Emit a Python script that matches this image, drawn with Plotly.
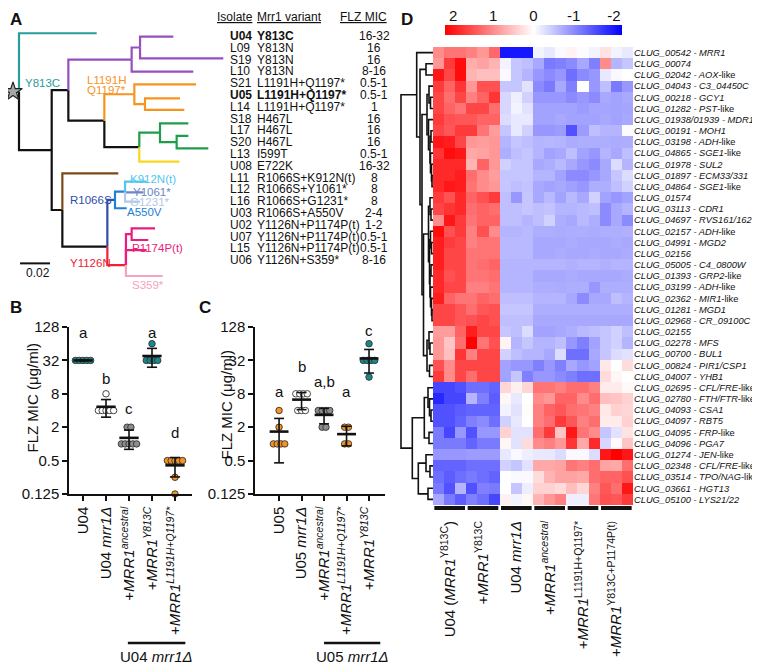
import numpy as np
import plotly.graph_objects as go

# The page body adds an 8px margin, so the figure is laid out 8px smaller and
# every reference pixel position is shifted by that offset.
PAGE_OFF = 8
W, H = 760 - PAGE_OFF, 664 - PAGE_OFF
FONT = "Arial, 'Liberation Sans', Helvetica, sans-serif"


def fx(px):
    return (px - PAGE_OFF) / W


def fy(py):
    return 1 - (py - PAGE_OFF) / H


# ---------------- colours ----------------
BLACK = "#111111"
TEAL = "#2A9C9C"
PURPLE = "#9650BE"
ORANGE = "#F7941D"
GREEN = "#1E9E4A"
YELLOW = "#F9D71C"
BROWN = "#7A4A1A"
DKBLUE = "#2E4FA8"
BLUE = "#1E7FD8"
CYAN = "#4EC6F0"
SLATE = "#6E86C4"
PALEBLUE = "#B3C9E6"
RED = "#EE2233"
MAGENTA = "#EC1C7C"
PINK = "#F5A3BE"

# ---------------- Panel A: tree (name, parent, branch length, colour) ----------------
tree_nodes = [
    ("root", None, 0.0, BLACK),
    ("U04", "root", 0.0518, TEAL),
    ("N1", "root", 0.0218, BLACK),
    ("N2", "N1", 0.0111, BLACK),
    ("P0", "N2", 0.0422, PURPLE),
    ("P1", "P0", 0.0056, PURPLE),
    ("L09", "P1", 0.0222, PURPLE),
    ("S19", "P1", 0.0555, PURPLE),
    ("L10", "P0", 0.0411, PURPLE),
    ("N3", "N2", 0.0240, BLACK),
    ("O1", "N3", 0.0200, ORANGE),
    ("S21", "O1", 0.0411, ORANGE),
    ("O2", "O1", 0.0071, ORANGE),
    ("U05", "O2", 0.0233, ORANGE),
    ("L14", "O2", 0.0262, ORANGE),
    ("N4", "N3", 0.0233, BLACK),
    ("G1", "N4", 0.0138, GREEN),
    ("S18", "G1", 0.0189, GREEN),
    ("G2", "G1", 0.0111, GREEN),
    ("L17", "G2", 0.0078, GREEN),
    ("S20", "G2", 0.0211, GREEN),
    ("L13", "N4", 0.0267, YELLOW),
    ("N5", "N1", 0.0071, BLACK),
    ("U08", "N5", 0.0373, BROWN),
    ("N6", "N5", 0.0300, BLACK),
    ("B1", "N6", 0.0051, DKBLUE),
    ("B2", "B1", 0.0067, BLUE),
    ("L11", "B2", 0.0144, CYAN),
    ("L12", "B2", 0.0122, SLATE),
    ("L16", "B2", 0.0100, PALEBLUE),
    ("U03", "B1", 0.0078, BLUE),
    ("R1", "N6", 0.0124, RED),
    ("M1", "R1", 0.0038, MAGENTA),
    ("U02", "M1", 0.0156, MAGENTA),
    ("U07", "M1", 0.0111, MAGENTA),
    ("L15", "R1", 0.0138, MAGENTA),
    ("U06", "R1", 0.0245, PINK),
]
leaf_rows = {"U04": -0.23, "L09": 0.06, "S19": 1.89, "L10": 3.02, "S21": 4.10,
             "U05": 5.28, "L14": 6.27, "S18": 7.40, "L17": 8.47, "S20": 9.52,
             "L13": 10.65, "U08": 11.64, "L11": 12.34, "L12": 13.25, "L16": 14.04,
             "U03": 14.60, "U02": 16.30, "U07": 17.29, "L15": 18.14, "U06": 20.34}
node_row_override = {"R1": 19.41, "N6": 17.85}
root_stem = 0.004
scale_bar_len = 0.02
scale_bar_start = 0.0007
scale_bar_row = 19.27

tree_labels = [
    ("Y813C", 0.0024, 4.01, TEAL),
    ("L1191H", 0.044, 3.75, ORANGE),
    ("Q1197*", 0.044, 4.62, ORANGE),
    ("R1066S", 0.0329, 13.9, DKBLUE),
    ("K912N(t)", 0.0729, 12.15, CYAN),
    ("Y1061*", 0.0747, 13.2, SLATE),
    ("G1231*", 0.0729, 14.05, PALEBLUE),
    ("A550V", 0.0707, 14.95, BLUE),
    ("Y1126N", 0.0329, 19.27, RED),
    ("P1174P(t)", 0.074, 18.0, MAGENTA),
    ("S359*", 0.074, 21.1, PINK),
]

table_isolates = ["U04", "L09", "S19", "L10", "S21", "U05", "L14", "S18", "L17", "S20",
                  "L13", "U08", "L11", "L12", "L16", "U03", "U02", "U07", "L15", "U06"]
table_variants = ["Y813C", "Y813N", "Y813N", "Y813N", "L1191H+Q1197*", "L1191H+Q1197*",
                  "L1191H+Q1197*", "H467L", "H467L", "H467L", "I599T", "E722K",
                  "R1066S+K912N(t)", "R1066S+Y1061*", "R1066S+G1231*", "R1066S+A550V",
                  "Y1126N+P1174P(t)", "Y1126N+P1174P(t)", "Y1126N+P1174P(t)", "Y1126N+S359*"]
table_mics = ["16-32", "16", "16", "8-16", "0.5-1", "0.5-1", "1", "16", "16", "16",
              "0.5-1", "16-32", "8", "8", "8", "2-4", "1-2", "0.5-1", "0.5-1", "8-16"]
table_bold = ["U04", "U05"]
table_headers = ["Isolate", "Mrr1 variant", "FLZ MIC"]

# ---------------- Panels B and C ----------------
b_labels = ["U04", "U04 <i>mrr1Δ</i>", "+<i>MRR1</i><sup><i>ancestral</i></sup>",
            "+<i>MRR1</i><sup><i>Y813C</i></sup>", "+<i>MRR1</i><sup><i>L1191H+Q1197*</i></sup>"]
b_values = [[32, 32, 32, 32, 32], [8, 4, 4, 4, 4, 4], [2, 2, 1, 1, 1, 1, 1],
            [64, 32, 32, 32, 32], [0.5, 0.5, 0.5, 0.5, 0.5, 0.25, 0.125]]
b_letters = ["a", "b", "c", "a", "d"]
b_letter_y = [100, 15, 4.4, 100, 1.6]

c_labels = ["U05", "U05 <i>mrr1Δ</i>", "+<i>MRR1</i><sup><i>ancestral</i></sup>",
            "+<i>MRR1</i><sup><i>L1191H+Q1197*</i></sup>", "+<i>MRR1</i><sup><i>Y813C</i></sup>"]
c_values = [[4, 2, 1, 1, 1, 1], [8, 8, 8, 8, 4, 4, 4], [4, 4, 4, 4, 2, 2],
            [2, 2, 1, 1], [64, 32, 32, 32, 32, 16]]
c_letters = ["a", "b", "a,b", "a", "c"]
c_letter_y = [8.8, 25, 13.6, 8.8, 111]

mic_ticks = [0.125, 0.5, 2, 8, 32, 128]

DOT_TEAL = "#17898A"
DOT_OPEN = "#FFFFFF"
DOT_GRAY = "#8C8C8C"
DOT_ORANGE = "#F7931E"
b_colors = [DOT_TEAL, DOT_OPEN, DOT_GRAY, DOT_TEAL, DOT_ORANGE]
c_colors = [DOT_ORANGE, DOT_OPEN, DOT_GRAY, DOT_ORANGE, DOT_TEAL]

# ---------------- Panel D: heatmap ----------------
gene_ids = ["CLUG_00542", "CLUG_00074", "CLUG_02042", "CLUG_04043", "CLUG_00218",
            "CLUG_01282", "CLUG_01938/01939", "CLUG_00191", "CLUG_03198", "CLUG_04865",
            "CLUG_01978", "CLUG_01897", "CLUG_04864", "CLUG_01574", "CLUG_03113",
            "CLUG_04697", "CLUG_02157", "CLUG_04991", "CLUG_02156", "CLUG_05005",
            "CLUG_01393", "CLUG_03199", "CLUG_02362", "CLUG_01281", "CLUG_02968",
            "CLUG_02155", "CLUG_02278", "CLUG_00700", "CLUG_00824", "CLUG_04007",
            "CLUG_02695", "CLUG_02780", "CLUG_04093", "CLUG_04097", "CLUG_04095",
            "CLUG_04096", "CLUG_01274", "CLUG_02348", "CLUG_03514", "CLUG_03661",
            "CLUG_05100"]
gene_names = ["MRR1", "", "AOX-like", "C3_04450C", "GCY1", "PST-like", "MDR1", "MOH1",
              "ADH-like", "SGE1-like", "SUL2", "ECM33/331", "SGE1-like", "", "CDR1",
              "RVS161/162", "ADH-like", "MGD2", "", "C4_0800W", "GRP2-like", "ADH-like",
              "MIR1-like", "MGD1", "CR_09100C", "", "MFS", "BUL1", "PIR1/CSP1", "YHB1",
              "CFL/FRE-like", "FTH/FTR-like", "CSA1", "RBT5", "FRP-like", "PGA7", "JEN-like",
              "CFL/FRE-like", "TPO/NAG-like", "HGT13", "LYS21/22"]
sample_groups = ["U04 (<i>MRR1</i><sup>Y813C</sup>)", "+<i>MRR1</i><sup>Y813C</sup>",
                 "U04 <i>mrr1Δ</i>", "+<i>MRR1</i><sup><i>ancestral</i></sup>",
                 "+<i>MRR1</i><sup>L1191H+Q1197*</sup>", "+<i>MRR1</i><sup>Y813C+P1174P(t)</sup>"]
reps_per_group = 3

expr = [
    [1.0, 1.2, 1.2, 1.1, 0.9, 1.3, -2.0, -2.0, -2.0, -0.1, -0.2, -0.05, 0.1, -0.03, -0.1, 0.25, -0.1, -0.2],
    [0.9, 1.7, 2.1, 0.7, 0.8, 0.65, -0.1, -0.5, -0.55, -0.75, -1.15, -1.1, -1.0, -0.75, -1.1, 1.0, -0.65, -0.5],
    [2.0, 1.6, 2.1, 0.65, 0.55, 0.55, -0.05, -0.5, -0.65, -0.9, -1.0, -0.9, -1.25, -1.0, -0.9, -0.2, -0.05, 0.0],
    [1.7, 1.35, 1.75, 0.9, 1.5, 1.5, -0.5, -0.5, -0.25, -1.0, -1.15, -0.75, -1.1, 0.0, -0.9, -0.55, -1.15, -0.9],
    [1.6, 1.25, 1.6, 1.1, 1.35, 1.75, -0.35, -0.15, -0.4, -0.9, -0.9, -0.9, -1.0, -0.9, -1.0, -0.75, -0.8, -0.75],
    [1.6, 1.35, 1.2, 1.6, 1.6, 1.25, -0.35, -0.1, -0.25, -0.8, -0.8, -0.8, -0.8, -0.85, -0.78, -0.78, -0.8, -0.78],
    [1.7, 1.5, 1.45, 1.45, 1.35, 1.35, -0.3, -0.2, -0.2, -0.8, -0.8, -0.75, -0.8, -0.8, -0.8, -0.75, -0.8, -0.75],
    [1.6, 1.45, 1.7, 1.7, 1.2, 0.85, -0.5, -0.2, -0.4, -0.9, -0.9, -0.85, -1.5, -0.85, -0.55, -0.65, -0.65, -0.03],
    [2.0, 1.95, 1.6, 0.9, 0.85, 0.9, -0.65, -0.5, -0.55, -0.65, -0.62, -0.65, -0.72, -0.7, -0.7, -0.7, -0.72, -0.7],
    [1.75, 2.1, 2.0, 0.75, 0.8, 0.9, -0.7, -0.55, -0.5, -0.65, -0.8, -0.75, -0.55, -0.8, -0.9, -0.65, -0.75, -0.55],
    [1.85, 1.85, 1.85, 0.65, 1.35, 0.9, -0.4, -0.5, -0.5, -0.75, -0.7, -0.6, -0.75, -0.9, -1.0, -0.75, -0.3, -0.65],
    [1.85, 1.85, 1.95, 1.25, 1.0, 0.85, -0.5, -0.5, -0.5, -0.65, -0.65, -0.8, -1.0, -1.0, -0.9, -0.75, -0.5, -0.3],
    [1.85, 2.0, 1.95, 1.2, 1.0, 0.9, -0.5, -0.55, -0.52, -0.75, -0.8, -0.75, -0.82, -0.9, -0.7, -0.7, -0.55, -0.4],
    [1.7, 1.5, 1.85, 1.35, 1.5, 1.7, -0.55, -0.9, -0.5, -0.75, -0.6, -0.8, -0.6, -0.75, -0.4, -0.8, -0.9, -0.8],
    [1.6, 1.75, 1.85, 1.25, 1.35, 1.25, -0.55, -0.55, -0.5, -0.55, -0.52, -0.65, -0.65, -0.6, -0.55, -1.0, -0.75, -0.65],
    [1.0, 2.0, 1.7, 1.2, 1.35, 1.35, -0.55, -0.55, -0.65, -0.55, -0.4, -0.7, -0.75, -0.6, -0.7, -1.0, -0.75, -1.0],
    [2.1, 1.5, 1.7, 1.1, 1.5, 1.0, -0.65, -0.65, -0.6, -0.7, -0.7, -0.72, -0.7, -0.7, -0.72, -0.7, -0.7, -0.68],
    [1.95, 1.7, 1.6, 1.1, 1.2, 1.2, -0.6, -0.6, -0.6, -0.75, -0.75, -0.75, -0.72, -0.75, -0.75, -0.75, -0.72, -0.75],
    [1.95, 1.6, 1.6, 1.2, 1.2, 1.2, -0.6, -0.6, -0.6, -0.75, -0.75, -0.72, -0.75, -0.75, -0.72, -0.75, -0.75, -0.72],
    [1.95, 1.6, 1.6, 1.2, 1.25, 1.35, -0.65, -0.65, -0.65, -0.65, -0.65, -0.65, -0.68, -0.65, -0.65, -0.68, -0.65, -0.65],
    [1.85, 1.5, 1.6, 1.2, 1.2, 1.25, -0.65, -0.65, -0.65, -0.75, -0.75, -0.75, -0.72, -0.75, -0.75, -0.75, -0.75, -0.72],
    [1.85, 1.6, 1.6, 1.1, 1.1, 1.2, -0.65, -0.65, -0.65, -0.7, -0.7, -0.72, -0.7, -0.7, -0.9, -0.7, -0.7, -0.7],
    [1.95, 1.35, 1.2, 1.2, 1.35, 1.25, -0.55, -0.55, -0.55, -0.65, -0.65, -0.65, -0.75, -1.0, -0.75, -0.75, -0.55, -0.65],
    [1.6, 1.6, 1.45, 1.25, 1.45, 1.5, -0.5, -0.5, -0.5, -0.7, -0.7, -0.7, -0.7, -0.7, -0.7, -0.7, -0.7, -0.7],
    [1.6, 1.6, 1.45, 1.5, 1.6, 1.5, -0.55, -0.55, -0.55, -0.75, -0.75, -0.75, -0.75, -0.75, -0.75, -0.75, -0.75, -0.75],
    [0.85, 0.85, 1.35, 1.95, 1.6, 1.6, -0.5, -0.55, -0.3, -0.8, -0.8, -0.75, -0.7, -0.6, -0.55, -0.5, -0.4, -0.55],
    [0.9, 0.5, 1.25, 2.2, 1.2, 1.5, 0.1, -0.65, -0.5, -0.65, -0.65, -0.55, -0.9, -1.1, -0.8, -0.5, -0.4, -0.65],
    [0.9, 0.55, 1.75, 1.1, 1.6, 1.6, -0.4, -0.55, -0.65, -0.65, -0.75, -0.3, -1.25, -1.25, -0.75, -0.5, -0.3, -0.25],
    [1.5, 1.0, 1.6, 1.6, 1.6, 1.6, -0.8, -0.9, -0.9, -1.1, -0.9, -1.1, -0.75, -0.9, -0.8, 0.2, 0.0, 0.3],
    [1.7, 1.0, 1.6, 1.25, 1.6, 1.6, -0.8, -0.5, -1.1, -0.9, -0.9, -1.0, -1.1, -1.25, -1.25, 0.3, 0.08, 0.0],
    [-1.6, -1.6, -1.5, -1.25, -1.25, -1.35, 0.35, 0.13, 0.35, 1.2, 1.2, 1.1, 1.25, 1.25, 1.1, 0.17, 0.17, 0.05],
    [-1.85, -1.6, -1.6, -0.65, -1.1, -1.4, 0.08, -0.2, 0.0, 1.0, 0.9, 1.35, 1.35, 1.0, 1.25, 0.55, 0.5, 0.4],
    [-1.5, -1.5, -1.4, -1.35, -1.35, -1.35, -0.1, -0.25, 0.03, 1.1, 1.35, 1.45, 1.25, 1.2, 1.1, 0.2, 0.4, 0.35],
    [-1.5, -1.5, -1.35, -1.1, -1.0, -1.25, -0.4, -0.2, 0.0, 1.1, 1.25, 1.7, 1.45, 1.1, 1.25, 0.17, 0.17, 0.4],
    [-1.15, -1.6, -0.9, -1.5, -0.9, -0.9, 0.4, -0.25, -0.25, 1.25, 1.7, 0.5, 2.0, 1.2, 1.0, -0.5, -0.25, 0.25],
    [-1.15, -1.15, -1.15, -1.35, -1.15, -1.15, 0.08, -0.25, 0.3, 1.0, 1.1, 0.9, 1.75, 0.75, 1.85, -0.35, 0.04, 0.5],
    [-0.9, -0.9, -0.9, -0.85, -0.85, -0.85, -0.2, -0.05, -0.15, -0.2, -0.2, -0.3, -0.05, -0.05, -0.3, 2.0, 2.2, 2.0],
    [-1.35, -1.35, -1.35, -1.25, -1.25, -1.25, -0.4, -0.5, -0.25, 0.75, 0.75, 0.8, 1.2, 1.1, 1.25, 0.8, 0.75, 1.25],
    [-1.25, -1.4, -1.25, -1.15, -1.25, -1.35, 0.0, -0.05, -0.05, 0.3, 0.65, 0.8, 0.8, 0.75, 1.25, 1.35, 1.35, 1.5],
    [-1.15, -1.5, -0.65, -1.5, -1.1, -1.15, 0.0, -0.5, -0.15, 0.4, 0.4, 0.3, 0.55, 0.35, 1.1, 1.45, 1.25, 2.0],
    [-0.75, -1.15, -1.4, -1.1, -1.25, -1.6, 0.12, -0.1, 0.08, 0.65, 0.9, 1.1, -0.15, -0.15, 1.2, 1.5, 1.45, 1.7],
]

# row dendrogram: (merge height, left, right); leaves are row indices
row_dendrogram = (32.0,
                  (16.3, 0,
                   (13.0, (7.0, 1, 2),
                    (11.0,
                     (6.0, (4.0, 3, (2.5, 4, 5)),
                      (4.5, 6, (3.0, (2.0, 7, 8), (2.5, 9, (1.5, 10, (1.0, 11, 12)))))),
                     (9.5,
                      (4.5, (3.0, 13, (2.0, 14, 15)),
                       (3.5, (2.5, 16, (1.5, 17, 18)),
                        (3.0, (2.0, 19, 20), (2.5, 21, (1.5, 22, (1.0, 23, 24)))))),
                      (6.0, (4.0, 25, (3.0, 26, 27)), (3.5, 28, 29)))))),
                  (20.7,
                   (8.7, (5.0, 30, (3.5, 31, (2.0, 32, 33))), (4.0, 34, 35)),
                   (14.7, (7.0, 36, (3.0, 37, 38)), (5.0, 39, 40))))

color_limit = 2.2
colorbar_ticks = [2, 1, 0, -1, -2]
heat_colorscale = [[0.0, "#0000FF"], [0.5, "#FFFFFF"], [1.0, "#FF0000"]]

# ============================================================
fig = go.Figure()
annotations = []
shapes = []

# ---------------- Panel A: tree ----------------
children, blen = {}, {}
for name, parent, bl, c in tree_nodes:
    blen[name] = bl
    children.setdefault(name, [])
    if parent:
        children.setdefault(parent, []).append(name)
xpos, ypos = {}, {}


def place(n, x0):
    xpos[n] = x0 + blen[n]
    for ch in children[n]:
        place(ch, xpos[n])
    if children[n]:
        ys = [ypos[c] for c in children[n]]
        ypos[n] = node_row_override.get(n, (ys[0] + ys[-1]) / 2)
    else:
        ypos[n] = leaf_rows[n]


place("root", 0.0)

segs = {}
for name, parent, bl, c in tree_nodes:
    if parent is None:
        continue
    px_, py_ = xpos[parent], ypos[parent]
    sx, sy = segs.setdefault(c, ([], []))
    sx += [px_, px_, xpos[name], None]
    sy += [py_, ypos[name], ypos[name], None]
sx, sy = segs.setdefault(BLACK, ([], []))
sx += [-root_stem, 0.0, None]
sy += [ypos["root"], ypos["root"], None]

order = [BLACK] + [c for c in segs if c != BLACK]
for c in order:
    xs, ys = segs[c]
    fig.add_trace(go.Scatter(x=xs, y=ys, mode="lines", line=dict(color=c, width=2.2),
                             xaxis="x", yaxis="y", hoverinfo="skip", showlegend=False))
fig.add_trace(go.Scatter(x=[-root_stem], y=[ypos["root"]], mode="markers",
                         marker=dict(symbol="star", size=14, color="#A6A6A6",
                                     line=dict(color="#222222", width=1.2)),
                         xaxis="x", yaxis="y", hoverinfo="skip", showlegend=False,
                         cliponaxis=False))
fig.add_trace(go.Scatter(x=[scale_bar_start, scale_bar_start + scale_bar_len],
                         y=[scale_bar_row, scale_bar_row], mode="lines",
                         line=dict(color=BLACK, width=2), xaxis="x", yaxis="y",
                         hoverinfo="skip", showlegend=False))
annotations.append(dict(text=f"{scale_bar_len:g}", x=scale_bar_start + scale_bar_len * 0.6,
                        y=scale_bar_row + 0.85, xref="x", yref="y", showarrow=False,
                        font=dict(size=12, color=BLACK, family=FONT)))
for txt, lx, ly, c in tree_labels:
    annotations.append(dict(text=txt, x=lx, y=ly, xref="x", yref="y", showarrow=False,
                            xanchor="left", yanchor="middle",
                            font=dict(size=11.5, color=c, family=FONT)))

# table
for txt, px_ in zip(table_headers, [215, 255, 338]):
    annotations.append(dict(text=f"<u>{txt}</u>", x=fx(px_), y=fy(17), xref="paper",
                            yref="paper", showarrow=False, xanchor="left", yanchor="middle",
                            font=dict(size=12, color=BLACK, family=FONT)))
for i, (iso, var, mic) in enumerate(zip(table_isolates, table_variants, table_mics)):
    b = iso in table_bold
    wrap = (lambda s: f"<b>{s}</b>") if b else (lambda s: s)
    annotations.append(dict(text=wrap(iso), x=fx(228), y=i, xref="paper", yref="y",
                            showarrow=False, xanchor="left", yanchor="middle",
                            font=dict(size=12, color=BLACK, family=FONT)))
    annotations.append(dict(text=wrap(var), x=fx(255), y=i, xref="paper", yref="y",
                            showarrow=False, xanchor="left", yanchor="middle",
                            font=dict(size=12, color=BLACK, family=FONT)))
    annotations.append(dict(text=mic, x=fx(374), y=i, xref="paper", yref="y",
                            showarrow=False, xanchor="center", yanchor="middle",
                            font=dict(size=12, color=BLACK, family=FONT)))

# ---------------- Panels B & C ----------------
DOT_SPACING_PX = 3.8


def dot_panel(values, colors, xa, ya, px_per_unit):
    for i, vals in enumerate(values):
        arr = np.array(vals, dtype=float)
        xs, ys = [], []
        for v in sorted(set(vals), reverse=True):
            n = int(np.sum(arr == v))
            offs = (np.arange(n) - (n - 1) / 2) * DOT_SPACING_PX / px_per_unit
            xs += list(i + offs)
            ys += [v] * n
        fig.add_trace(go.Scatter(x=xs, y=ys, mode="markers", xaxis=xa, yaxis=ya,
                                 marker=dict(size=6.5, color=colors[i],
                                             line=dict(color="#333333", width=0.9)),
                                 cliponaxis=False, hoverinfo="skip", showlegend=False))
    for i, vals in enumerate(values):
        arr = np.array(vals, dtype=float)
        m, s = arr.mean(), arr.std(ddof=1)
        fig.add_trace(go.Scatter(x=[i - 0.42, i + 0.42], y=[m, m], mode="lines",
                                 xaxis=xa, yaxis=ya, line=dict(color=BLACK, width=2.6),
                                 cliponaxis=False, hoverinfo="skip", showlegend=False))
        fig.add_trace(go.Scatter(
            x=[i, i, None, i - 0.22, i + 0.22, None, i - 0.22, i + 0.22],
            y=[m - s, m + s, None, m + s, m + s, None, m - s, m - s],
            mode="lines", xaxis=xa, yaxis=ya, line=dict(color=BLACK, width=1.6),
            cliponaxis=False, hoverinfo="skip", showlegend=False))


dot_panel(b_values, b_colors, "x2", "y2", 23.0)
dot_panel(c_values, c_colors, "x3", "y3", 22.5)

for i, (t, yv) in enumerate(zip(b_letters, b_letter_y)):
    annotations.append(dict(text=t, x=i, y=np.log10(yv), xref="x2", yref="y2",
                            showarrow=False, font=dict(size=15, color=BLACK, family=FONT)))
for i, (t, yv) in enumerate(zip(c_letters, c_letter_y)):
    annotations.append(dict(text=t, x=i, y=np.log10(yv), xref="x3", yref="y3",
                            showarrow=False, font=dict(size=15, color=BLACK, family=FONT)))

for xa, x0, x1, label in [("x2", 1.95, 4.45, "U04 <i>mrr1Δ</i>"),
                          ("x3", 2.0, 4.5, "U05 <i>mrr1Δ</i>")]:
    shapes.append(dict(type="line", xref=xa, yref="paper", x0=x0, x1=x1,
                       y0=fy(643), y1=fy(643), line=dict(color=BLACK, width=2.5)))
    annotations.append(dict(text=label, x=(x0 + x1) / 2, y=fy(656), xref=xa, yref="paper",
                            showarrow=False, yanchor="middle",
                            font=dict(size=15, color=BLACK, family=FONT)))

for px_, py_ in [(21, 398), (215, 405)]:
    annotations.append(dict(text="FLZ MIC (μg/ml)", x=fx(px_), y=fy(py_), xref="paper",
                            yref="paper", showarrow=False, textangle=-90,
                            font=dict(size=15, color=BLACK, family=FONT)))

# ---------------- Panel D: heatmap ----------------
n_rows, n_cols = len(expr), len(expr[0])
fig.add_trace(go.Heatmap(z=expr, x=list(range(n_cols)), y=list(range(n_rows)),
                         colorscale=heat_colorscale, zmin=-color_limit, zmax=color_limit,
                         showscale=False, xaxis="x4", yaxis="y4", hoverinfo="skip"))


def gene_label(gid, name):
    s = f"<i>{gid}</i>"
    if name:
        if name.endswith("-like"):
            s += f"<i> - {name[:-5]}</i>-like"
        else:
            s += f"<i> - {name}</i>"
    return s


gene_labels = [gene_label(g, n) for g, n in zip(gene_ids, gene_names)]

dx, dy = [], []


def dendro(node):
    if isinstance(node, int):
        return float(node), 0.0
    h, left, right = node
    yl, hl = dendro(left)
    yr, hr = dendro(right)
    dx.extend([hl, h, h, hr, None])
    dy.extend([yl, yl, yr, yr, None])
    return (yl + yr) / 2, h


dendro(row_dendrogram)
fig.add_trace(go.Scatter(x=dx, y=dy, mode="lines", line=dict(color=BLACK, width=1.6),
                         xaxis="x5", yaxis="y5", hoverinfo="skip", showlegend=False,
                         cliponaxis=False))

group_centers = []
for g in range(len(sample_groups)):
    g0 = g * reps_per_group
    g1 = g0 + reps_per_group - 1
    group_centers.append((g0 + g1) / 2)
    shapes.append(dict(type="line", xref="x4", yref="paper", x0=g0 - 0.38, x1=g1 + 0.38,
                       y0=fy(508), y1=fy(508), line=dict(color=BLACK, width=4)))

cb_vals = np.linspace(color_limit, -color_limit, 221)
fig.add_trace(go.Heatmap(z=[cb_vals], x=cb_vals, y=[0], colorscale=heat_colorscale,
                         zmin=-color_limit, zmax=color_limit, showscale=False,
                         xaxis="x6", yaxis="y6", hoverinfo="skip"))

# panel letters (A and D sit at the very top of the page)
for t, px_, py_, ya in [("A", 8, 8.5, "top"), ("B", 8, 307, "middle"),
                        ("C", 197, 307, "middle"), ("D", 399, 8.5, "top")]:
    annotations.append(dict(text=f"<b>{t}</b>", x=fx(px_), y=fy(py_), xref="paper",
                            yref="paper", showarrow=False, xanchor="left", yanchor=ya,
                            font=dict(size=17, color=BLACK, family=FONT)))

hidden = dict(visible=False, showgrid=False, zeroline=False, automargin=False)
dot_x = dict(showgrid=False, zeroline=False, showline=True, linecolor=BLACK, linewidth=1.5,
             ticks="outside", ticklen=5, tickwidth=1.5, tickcolor=BLACK, tickangle=-90,
             tickfont=dict(size=15, color=BLACK, family=FONT), automargin=False,
             tickvals=list(range(5)))
dot_y = dict(type="log", range=[np.log10(mic_ticks[0]), np.log10(mic_ticks[-1])],
             tickvals=mic_ticks, ticktext=[f"{v:g}" for v in mic_ticks],
             showgrid=False, zeroline=False, showline=True, linecolor=BLACK, linewidth=1.5,
             ticks="outside", ticklen=5, tickwidth=1.5, tickcolor=BLACK,
             tickfont=dict(size=15, color=BLACK, family=FONT), automargin=False)

px_per_d = 30 / 0.02
fig.update_layout(
    width=W, height=H, margin=dict(l=0, r=0, t=0, b=0, autoexpand=False),
    paper_bgcolor="white", plot_bgcolor="white", showlegend=False,
    font=dict(family=FONT, color=BLACK),
    xaxis=dict(domain=[fx(8), fx(235)], range=[(8 - 19) / px_per_d, (235 - 19) / px_per_d],
               **hidden),
    yaxis=dict(domain=[fy(295), fy(25)], range=[21.95, -0.93], **hidden),
    xaxis2=dict(domain=[fx(69), fx(192)], range=[-0.61, 4.74], anchor="y2",
                ticktext=b_labels, **dot_x),
    yaxis2=dict(domain=[fy(494), fy(327)], anchor="x2", **dot_y),
    xaxis3=dict(domain=[fx(255), fx(385)], range=[-1.07, 4.71], anchor="y3",
                ticktext=c_labels, **dot_x),
    yaxis3=dict(domain=[fy(494), fy(327)], anchor="x3", **dot_y),
    xaxis4=dict(domain=[fx(433), fx(633)], range=[-0.5, n_cols - 0.5], anchor="y4",
                tickvals=group_centers, ticktext=sample_groups, tickangle=-90,
                ticks="outside", ticklen=9, tickcolor="rgba(0,0,0,0)", showline=False,
                showgrid=False, zeroline=False, automargin=False,
                tickfont=dict(size=15, color=BLACK, family=FONT)),
    yaxis4=dict(domain=[fy(505), fy(47)], range=[n_rows - 0.5, -0.5], anchor="x4",
                side="right", tickvals=list(range(n_rows)), ticktext=gene_labels,
                ticks="", showline=False, showgrid=False, zeroline=False, automargin=False,
                tickfont=dict(size=9.3, color=BLACK, family=FONT)),
    xaxis5=dict(domain=[fx(397), fx(433)], range=[36, 0], anchor="y5", **hidden),
    yaxis5=dict(domain=[fy(505), fy(47)], range=[n_rows - 0.5, -0.5], anchor="x5", **hidden),
    xaxis6=dict(domain=[fx(445), fx(622)], range=[color_limit, -color_limit], anchor="y6",
                side="top", tickvals=colorbar_ticks, ticktext=[str(t) for t in colorbar_ticks],
                ticks="", showline=False, showgrid=False, zeroline=False, automargin=False,
                tickfont=dict(size=15, color=BLACK, family=FONT)),
    yaxis6=dict(domain=[fy(35), fy(25)], range=[-0.5, 0.5], anchor="x6", **hidden),
    annotations=annotations, shapes=shapes,
)

fig.write_html("out.html")
